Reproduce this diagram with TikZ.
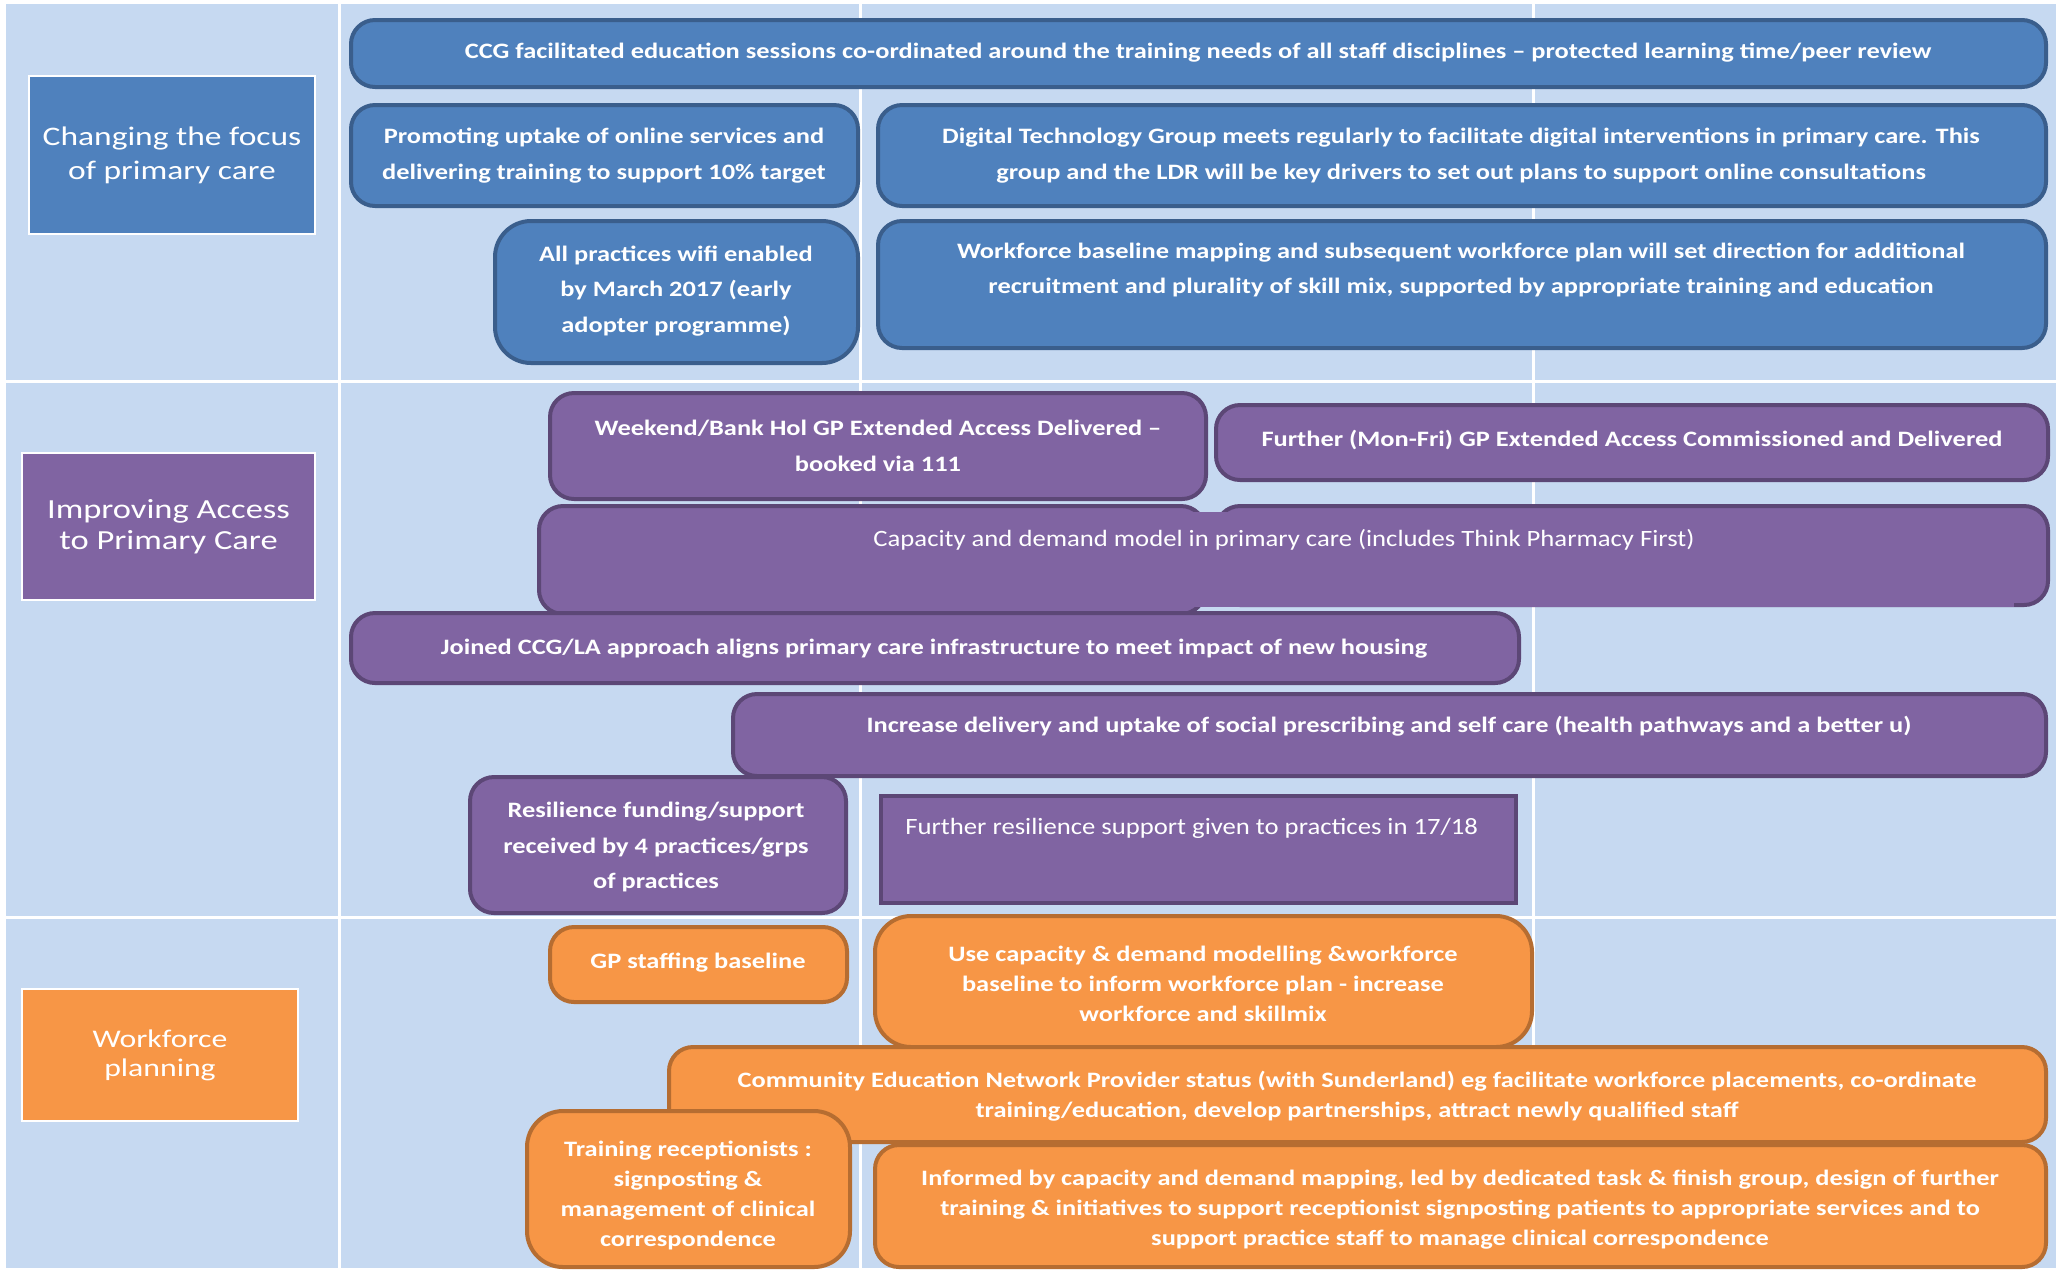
\documentclass[tikz,border=0pt]{standalone}
\usepackage{fontspec}
\setmainfont{Carlito}
\newfontfamily\boxfont{Carlito}[FakeStretch=1.2]
\newfontfamily\plainfont{Carlito}[FakeStretch=1.14]
\newfontfamily\headfont{Carlito}[FakeStretch=1.25]
\definecolor{cellbg}{HTML}{C6D9F1}
\definecolor{bfill}{HTML}{4F81BD}
\definecolor{bline}{HTML}{3A5E8C}
\definecolor{pfill}{HTML}{8064A2}
\definecolor{pline}{HTML}{5C4776}
\definecolor{ofill}{HTML}{F79646}
\definecolor{oline}{HTML}{B66D31}
\tikzset{
  box/.style={line width=2pt, rounded corners=12pt},
  bbox/.style={box, fill=bfill, draw=bline},
  pbox/.style={box, fill=pfill, draw=pline},
  obox/.style={box, fill=ofill, draw=oline},
  txt/.style={text=white, align=center, inner sep=0pt},
  btxt/.style={txt, font=\boxfont\bfseries\fontsize{11}{17.75}\selectfont},
  otxt/.style={txt, font=\boxfont\bfseries\fontsize{11}{15}\selectfont},
  rtxt/.style={txt, font=\plainfont\fontsize{11.7}{15}\selectfont},
  head/.style={draw=white, line width=1pt, text=white, align=center, inner sep=0pt},
  grid/.style={draw=white, line width=1.5pt}
}
\begin{document}
\begin{tikzpicture}[x=0.5pt, y=-0.5pt]
\useasboundingbox (0,0) rectangle (2060,1271);
% table background and cell lines
\fill[white] (0,0) rectangle (2060,1271);
\fill[cellbg] (6,4) rectangle (2056,1268);
\draw[grid] (339,4) -- (339,1268);
\draw[grid] (860.5,4) -- (860.5,1268);
\draw[grid] (1533,4) -- (1533,1268);
\draw[grid] (6,381) -- (2056,381);
\draw[grid] (6,917) -- (2056,917);

% row headers
\node[head, fill=bfill, minimum width=143pt, minimum height=79pt,
  font=\headfont\fontsize{13.4}{17}\selectfont] (hfocus) at (172,155)
  {Changing the focus\\of primary care};
\node[head, fill=pfill, minimum width=146.5pt, minimum height=73.5pt,
  font=\headfont\fontsize{13.8}{15.75}\selectfont] (haccess) at (168.5,526.5)
  {Improving Access\\to Primary Care};
\node[head, fill=ofill, minimum width=138pt, minimum height=66pt,
  font=\headfont\fontsize{12.7}{14.5}\selectfont] (hwork) at (160,1055)
  {Workforce\\planning};

% ---- changing the focus of primary care
\draw[bbox] (351,20) rectangle (2046,87);
\node[btxt] (ccg) at (1198,52.5) {CCG facilitated education sessions co-ordinated around the training needs of all staff disciplines – protected learning time/peer review};
\draw[bbox] (351,105) rectangle (858,206);
\node[btxt] (online) at (604,155.5) {Promoting uptake of online services and\\delivering training to support 10\% target};
\draw[bbox] (878,105) rectangle (2046,206);
\node[btxt] (digital) at (1461,155.5) {Digital Technology Group meets regularly to facilitate digital interventions in primary care. This\\group and the LDR will be key drivers to set out plans to support online consultations};
\draw[bbox, rounded corners=18pt] (495,221) rectangle (858,363);
\node[btxt] (wifi) at (676,291) {All practices wifi enabled\\by March 2017 (early\\adopter programme)};
\draw[bbox] (878,221) rectangle (2046,348);
\node[btxt] (wfmap) at (1461,270) {Workforce baseline mapping and subsequent workforce plan will set direction for additional\\recruitment and plurality of skill mix, supported by appropriate training and education};

% ---- improving access to primary care
\draw[pbox] (550,393) rectangle (1206,499);
\node[btxt] (weekend) at (878,446) {Weekend/Bank Hol GP Extended Access Delivered –\\booked via 111};
\draw[pbox] (1216,405) rectangle (2048,480);
\node[btxt] (monfri) at (1632,440) {Further (Mon-Fri) GP Extended Access Commissioned and Delivered};
\draw[pbox] (539,506) rectangle (1205,614);
\draw[pbox] (1216,506) rectangle (2048,605);
\fill[pfill] (560,512) rectangle (2014,607);
\node[rtxt] (capacity) at (1284,540) {Capacity and demand model in primary care (includes Think Pharmacy First)};
\draw[pbox] (351,613) rectangle (1519,683);
\node[btxt] (housing) at (934,649) {Joined CCG/LA approach aligns primary care infrastructure to meet impact of new housing};
\draw[pbox] (733,694) rectangle (2046,776);
\node[btxt] (social) at (1389,726.5) {Increase delivery and uptake of social prescribing and self care (health pathways and a better u)};
\draw[pbox] (470,777) rectangle (846,913);
\node[btxt] (resil) at (656,847) {Resilience funding/support\\received by 4 practices/grps\\of practices};
\draw[pbox, rounded corners=0pt] (881,796) rectangle (1516,903);
\node[rtxt, anchor=west] (furtherres) at (905,828) {Further resilience support given to practices in 17/18};

% ---- workforce planning
\draw[obox] (550,927) rectangle (847,1002);
\node[otxt] (gpstaff) at (698,963) {GP staffing baseline};
\draw[obox, rounded corners=18pt] (875,916) rectangle (1532,1047);
\node[otxt] (usecap) at (1203,984) {Use capacity \& demand modelling \&workforce\\baseline to inform workforce plan - increase\\workforce and skillmix};
\draw[obox] (669,1047) rectangle (2046,1142);
\node[otxt] (community) at (1357,1096.5) {Community Education Network Provider status (with Sunderland) eg facilitate workforce placements, co-ordinate\\training/education, develop partnerships, attract newly qualified staff};
\draw[obox] (875,1145) rectangle (2046,1267);
\node[otxt] (informed) at (1460,1210) {Informed by capacity and demand mapping, led by dedicated task \& finish group, design of further\\training \& initiatives to support receptionist signposting patients to appropriate services and to\\support practice staff to manage clinical correspondence};
\draw[obox, rounded corners=18pt] (527,1111) rectangle (850,1267);
\node[otxt] (reception) at (688,1195) {Training receptionists :\\signposting \&\\management of clinical\\correspondence};
\end{tikzpicture}
\end{document}
